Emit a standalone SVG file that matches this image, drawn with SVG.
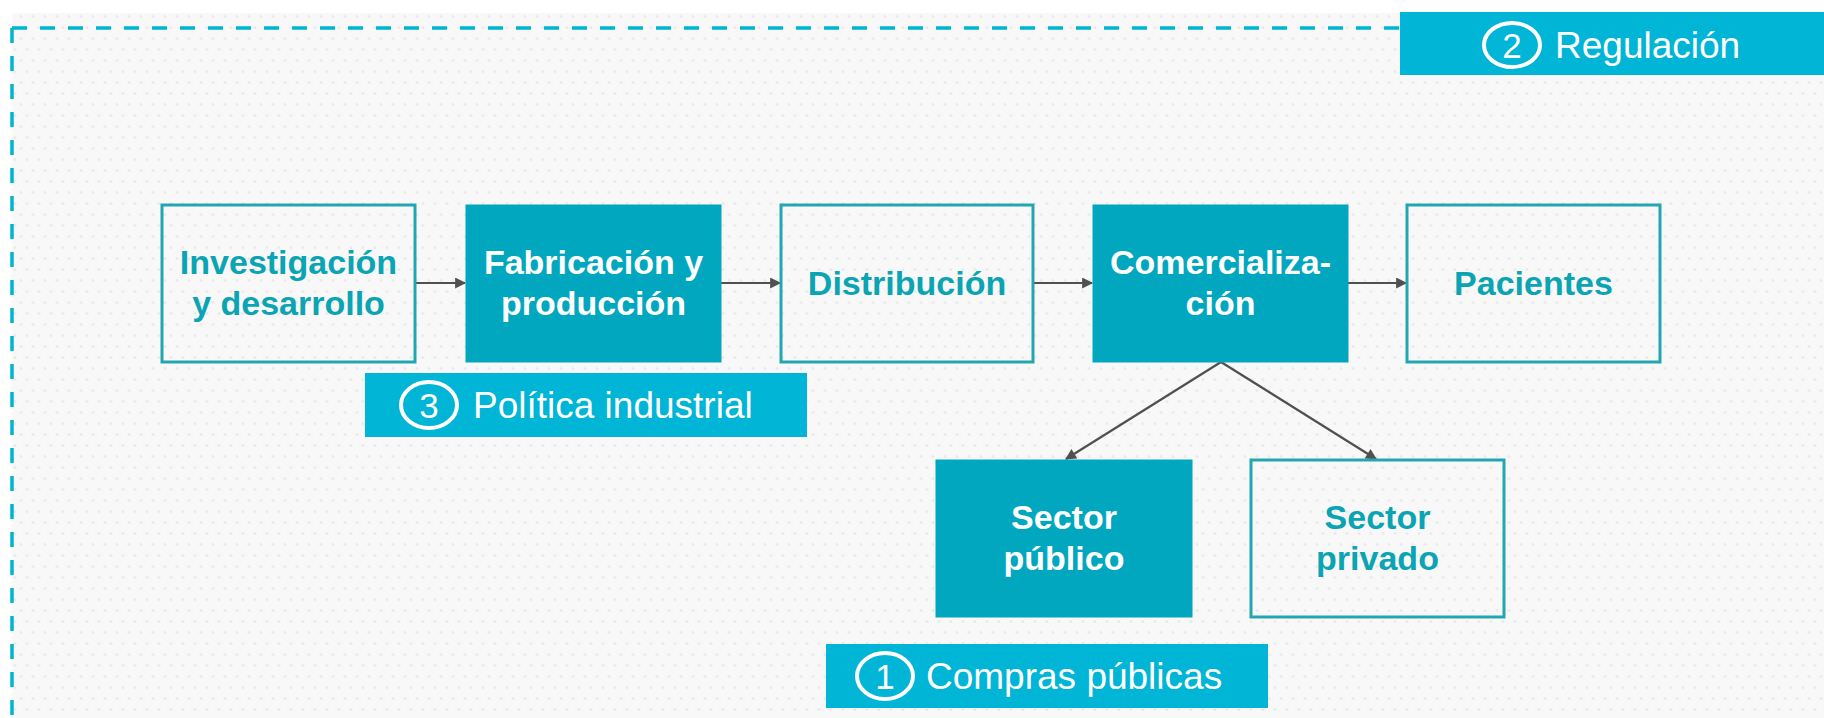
<svg xmlns="http://www.w3.org/2000/svg" width="1824" height="718" viewBox="0 0 1824 718">
  <style>
    .node-out { fill: none; stroke: #22a6b1; stroke-width: 3; }
    .node-fill { fill: #00a7be; stroke: #00a7be; stroke-width: 1; }
    .txt-out { font-family: "Liberation Sans", Arial, sans-serif; font-weight: bold; font-size: 34px; fill: #0aa4b3; text-anchor: middle; }
    .txt-fill { font-family: "Liberation Sans", Arial, sans-serif; font-weight: bold; font-size: 34px; fill: #ffffff; text-anchor: middle; }
    .tag-box { fill: #00b5d5; }
    .tag-txt { font-family: "Liberation Sans", Arial, sans-serif; font-size: 37px; fill: #ffffff; }
    .tag-num { font-family: "Liberation Sans", Arial, sans-serif; font-size: 35px; fill: #ffffff; text-anchor: middle; }
    .tag-ring { fill: none; stroke: #ffffff; stroke-width: 4; }
    .conn { stroke: #505050; stroke-width: 2.2; fill: none; marker-end: url(#arrow); }
    .border { fill: none; stroke: #00b4d4; stroke-width: 3.5; stroke-dasharray: 15 13; }
  </style>
  <defs>
    <pattern id="dots" width="12" height="22" patternUnits="userSpaceOnUse">
      <rect width="12" height="22" fill="#f8f8f8"/>
      <circle cx="3" cy="5.5" r="1.6" fill="#ebebeb"/>
      <circle cx="9" cy="16.5" r="1.6" fill="#ebebeb"/>
    </pattern>
    <marker id="arrow" viewBox="0 0 10 10" refX="9" refY="5" markerWidth="5.5" markerHeight="5" orient="auto" markerUnits="strokeWidth">
      <path d="M0,0 L10,5 L0,10 z" fill="#505050"/>
    </marker>
  </defs>

  <rect x="0" y="0" width="1824" height="718" fill="#ffffff"/>
  <rect x="12" y="13" width="1812" height="705" fill="url(#dots)"/>

  <g id="border">
    <path class="border" d="M12,28 H1400"/>
    <path class="border" d="M12,28 V718"/>
  </g>

  <g id="connectors">
    <line class="conn" x1="415" y1="283" x2="465" y2="283"/>
    <line class="conn" x1="721" y1="283" x2="780" y2="283"/>
    <line class="conn" x1="1033" y1="283" x2="1092" y2="283"/>
    <line class="conn" x1="1348" y1="283" x2="1406" y2="283"/>
    <line class="conn" x1="1221" y1="362" x2="1066" y2="459"/>
    <line class="conn" x1="1221" y1="362" x2="1376" y2="459"/>
  </g>

  <g id="investigacion">
    <rect class="node-out" x="162" y="205" width="253" height="157"/>
    <text class="txt-out" x="288.5" y="274">Investigación</text>
    <text class="txt-out" x="288.5" y="315">y desarrollo</text>
  </g>
  <g id="fabricacion">
    <rect class="node-fill" x="466" y="205" width="255" height="157"/>
    <text class="txt-fill" x="593.5" y="274">Fabricación y</text>
    <text class="txt-fill" x="593.5" y="315">producción</text>
  </g>
  <g id="distribucion">
    <rect class="node-out" x="781" y="205" width="252" height="157"/>
    <text class="txt-out" x="907" y="295">Distribución</text>
  </g>
  <g id="comercializacion">
    <rect class="node-fill" x="1093" y="205" width="255" height="157"/>
    <text class="txt-fill" x="1220.5" y="274">Comercializa-</text>
    <text class="txt-fill" x="1220.5" y="315">ción</text>
  </g>
  <g id="pacientes">
    <rect class="node-out" x="1407" y="205" width="253" height="157"/>
    <text class="txt-out" x="1533.5" y="295">Pacientes</text>
  </g>
  <g id="sector-publico">
    <rect class="node-fill" x="936" y="460" width="256" height="157"/>
    <text class="txt-fill" x="1064" y="529">Sector</text>
    <text class="txt-fill" x="1064" y="570">público</text>
  </g>
  <g id="sector-privado">
    <rect class="node-out" x="1251" y="460" width="253" height="157"/>
    <text class="txt-out" x="1377.5" y="529">Sector</text>
    <text class="txt-out" x="1377.5" y="570">privado</text>
  </g>

  <g id="regulacion">
    <rect class="tag-box" x="1400" y="12" width="424" height="63"/>
    <ellipse class="tag-ring" cx="1512" cy="45" rx="28" ry="22"/>
    <text class="tag-num" x="1512" y="57.5">2</text>
    <text class="tag-txt" x="1555" y="58">Regulación</text>
  </g>
  <g id="politica-industrial">
    <rect class="tag-box" x="365" y="373" width="442" height="64"/>
    <ellipse class="tag-ring" cx="429" cy="405" rx="28" ry="23"/>
    <text class="tag-num" x="429" y="417.5">3</text>
    <text class="tag-txt" x="473" y="418">Política industrial</text>
  </g>
  <g id="compras-publicas">
    <rect class="tag-box" x="826" y="644" width="442" height="64"/>
    <ellipse class="tag-ring" cx="885" cy="676" rx="28" ry="23"/>
    <text class="tag-num" x="885" y="688.5">1</text>
    <text class="tag-txt" x="926" y="689">Compras públicas</text>
  </g>
</svg>
